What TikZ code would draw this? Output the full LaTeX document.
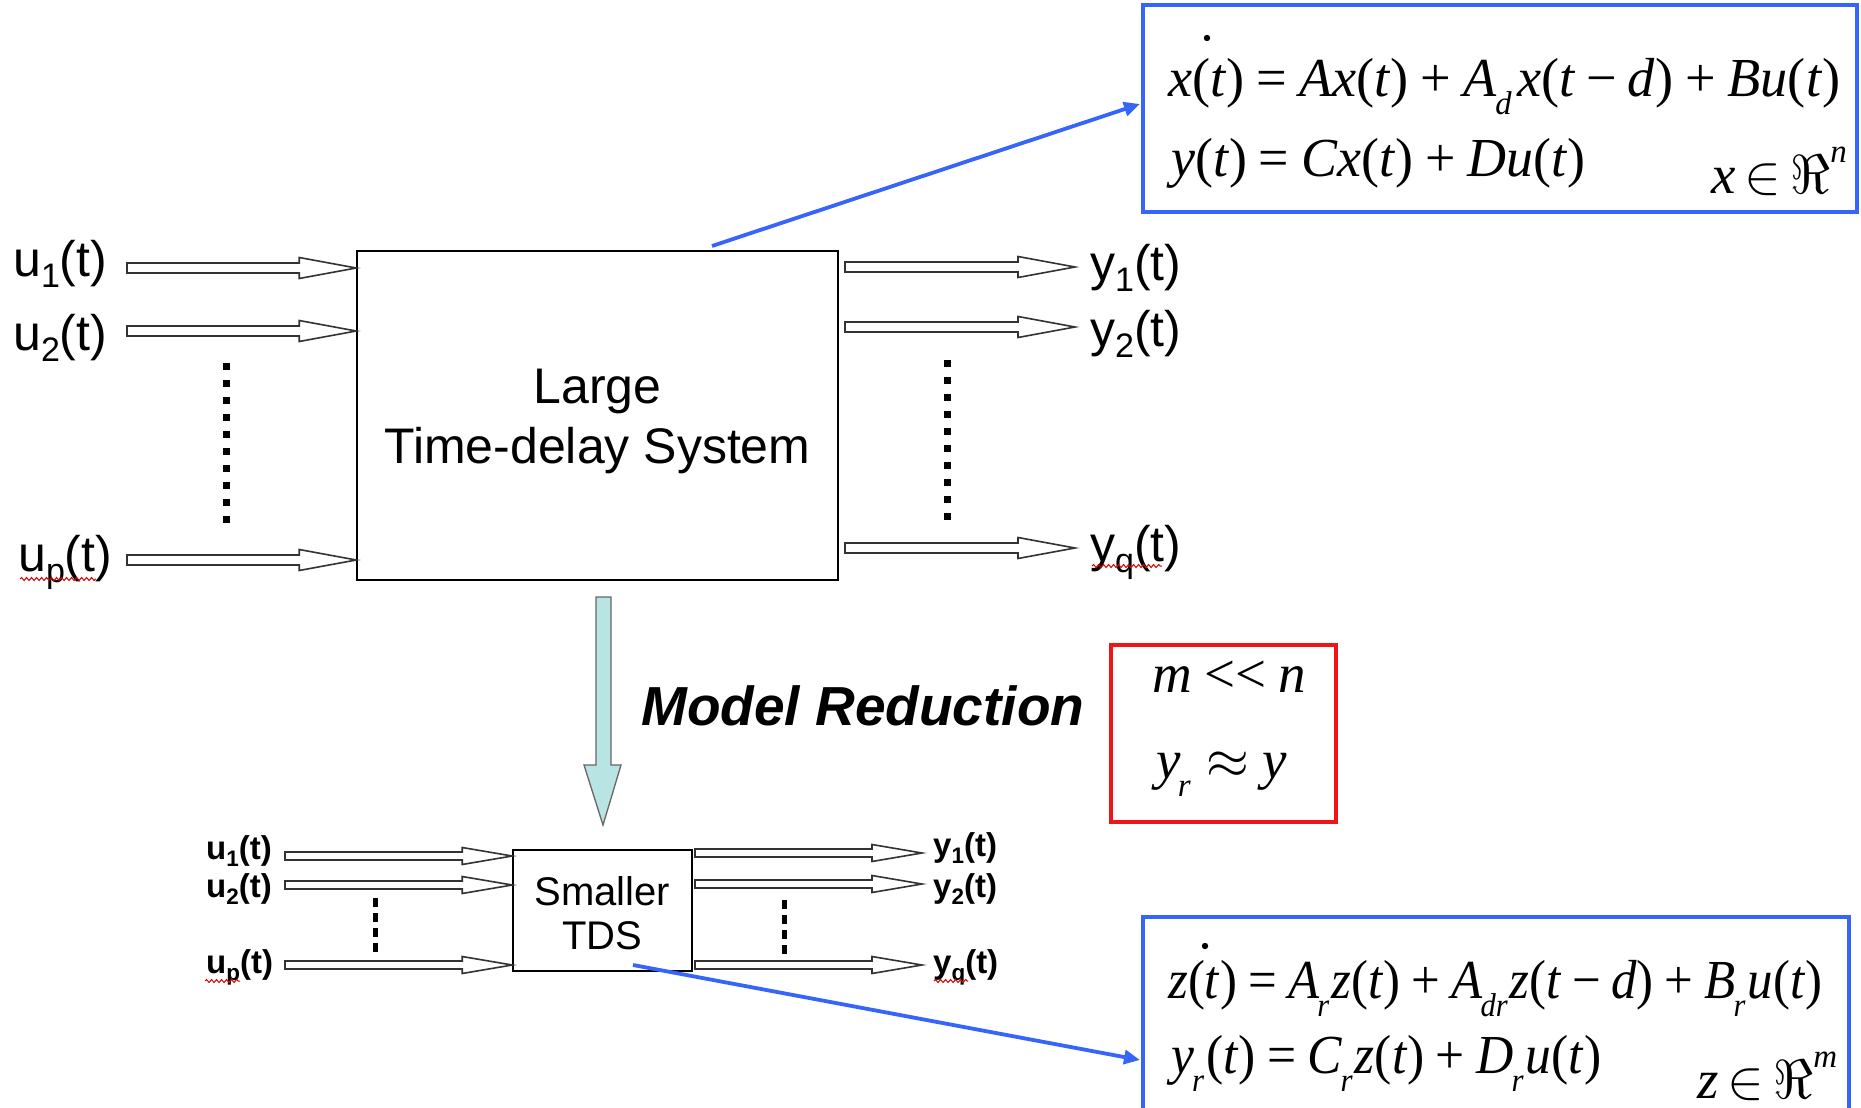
\RequirePackage{fix-cm}
\documentclass[tikz,border=0pt]{standalone}
\usepackage{fontspec}
\usepackage{graphicx}
\setmainfont{Liberation Sans}
\newfontfamily\tms{Liberation Serif}
\usetikzlibrary{arrows.meta,calc,decorations.pathmorphing}
\definecolor{eqblue}{RGB}{55,100,250}
\definecolor{boxred}{RGB}{238,20,24}
\definecolor{downfill}{RGB}{184,228,228}
\newcommand\lo[1]{\raisebox{-0.22em}{\scalebox{0.68}{#1}}}
\newcommand\mi[1]{\textit{#1}}
\newcommand\opr[1]{\hspace{0.22em}#1\hspace{0.22em}}
\newcommand\mns{\hspace{0.2em}−\hspace{0.2em}}
\newcommand\sbs[2][0em]{\hspace{#1}\raisebox{-0.33em}{\scalebox{0.6}{\textit{#2}}}\hspace{0.04em}}
\newcommand\sps[1]{\raisebox{0.55em}{\scalebox{0.6}{\textit{#1}}}}
\newcommand\fitw[2]{\resizebox{#1}{\height}{#2}}
\begin{document}
\begin{tikzpicture}[x=1pt,y=-1pt,
 harrow/.style n args={3}{draw=black!80, fill=white, line width=1.6pt, line join=miter,
   to path={let \p1=(\tikztostart), \p2=(\tikztotarget) in
     (\x1,\y1+#1) -- (\x2-#3,\y1+#1) -- (\x2-#3,\y1+#2) -- (\x2,\y1) --
     (\x2-#3,\y1-#2) -- (\x2-#3,\y1-#1) -- (\x1,\y1-#1) -- cycle}},
 bigarr/.style={harrow={5pt}{10.5pt}{57pt}},
 smallarr/.style={harrow={4pt}{8.5pt}{50pt}},
 biglab/.style={font=\fontsize{50}{60}\selectfont, inner sep=0pt, anchor=base west},
 smalllab/.style={font=\fontsize{33}{40}\selectfont\bfseries, inner sep=0pt, anchor=base west},
 eqtext/.style={font=\tms\fontsize{55}{60}\selectfont, inner sep=0pt, anchor=base west},
 eqframe/.style={draw=eqblue, line width=4.5pt},
 bluelink/.style={draw=eqblue, line width=3.8pt, -{Triangle[length=16pt,width=14pt]}},
 bigdots/.style={line width=7pt, dash pattern=on 7pt off 10pt},
 smalldots/.style={line width=5pt, dash pattern=on 9pt off 6pt},
 wavy/.style={draw=red!85!black, line width=1pt, decorate, decoration={snake, amplitude=1.5pt, segment length=5pt}}
]
\useasboundingbox (0,0) rectangle (1861,1108);

% ---------- large system ----------
\node[draw, line width=1.6pt, minimum width=481pt, minimum height=329pt] (lbox) at (597.5,415.5) {};
\node[align=center, font=\fontsize{50}{60}\selectfont, inner sep=0pt] (ltxt) at (597.5,421.5)
      {Large\\Time-delay System};

\node[biglab] (u1) at (13,276) {u\lo{1}(t)};
\node[biglab] (u2) at (13,350) {u\lo{2}(t)};
\node[biglab] (up) at (18,571) {u\lo{p}(t)};
\coordinate (i1) at (127,268);
\coordinate (i2) at (127,331);
\coordinate (ip) at (127,560);
\draw[bigarr] (i1) to (lbox.west |- i1);
\draw[bigarr] (i2) to (lbox.west |- i2);
\draw[bigarr] (ip) to (lbox.west |- ip);
\draw[bigdots] (226,363) -- (226,525);

\node[biglab] (y1) at (1090,280) {y\lo{1}(t)};
\node[biglab] (y2) at (1090,346) {y\lo{2}(t)};
\node[biglab] (yq) at (1090,561) {y\lo{q}(t)};
\coordinate (o1s) at (845,267);
\coordinate (o2s) at (845,327);
\coordinate (oqs) at (845,548);
\coordinate (o1e) at (1075,267);
\coordinate (o2e) at (1075,327);
\coordinate (oqe) at (1075,548);
\draw[bigarr] (o1s) to (o1e);
\draw[bigarr] (o2s) to (o2e);
\draw[bigarr] (oqs) to (oqe);
\draw[bigdots] (947,360) -- (947,522);

\draw[wavy] (20,579) -- (96,579);
\draw[wavy] (1092,566) -- (1162,566);

% ---------- top equations ----------
\node[eqframe, minimum width=714pt, minimum height=207pt, inner sep=0pt] (eqtop) at (1500,108.5) {};
\node[eqtext] (eq1) at (1168,96)
 {\fitw{672pt}{\mi{x}(\mi{t})\opr{=}\mi{Ax}(\mi{t})\opr{+}\mi{A}\sbs[-0.02em]{d}\hspace{0.06em}\mi{x}(\mi{t}\mns\mi{d})\opr{+}\mi{Bu}(\mi{t})}};
\fill (1207,38) circle (3.2pt);
\node[eqtext] (eq2) at (1171,176)
 {\fitw{414pt}{\mi{y}(\mi{t})\opr{=}\mi{Cx}(\mi{t})\opr{+}\mi{Du}(\mi{t})}};
\node[eqtext] (xin) at (1711,193) {\mi{x}\,$\in$\,$\Re$\sps{n}};
\coordinate (ls) at (712,246);
\coordinate (lt) at (1140,104);
\draw[bluelink] (ls) -- (lt);

% ---------- model reduction ----------
\draw[fill=downfill, draw=black!60, line width=1.3pt]
  (596,597) -- (611,597) -- (611,765) -- (621,765) -- (603,825) -- (584,765) -- (596,765) -- cycle;
\node[font=\fontsize{55}{60}\selectfont\bfseries\itshape, inner sep=0pt, anchor=base west] (mr) at (641,725) {Model Reduction};

\node[draw=boxred, line width=4pt, minimum width=225pt, minimum height=177pt, inner sep=0pt] (rbox) at (1223.5,733.5) {};
\node[eqtext] (mn) at (1152,692) {\mi{m}\hspace{0.22em}<<\hspace{0.22em}\mi{n}};
\node[eqtext] (yry) at (1156,778) {\mi{y}\sbs[-0.05em]{r}\hspace{0.24em}$\approx$\hspace{0.24em}\mi{y}};

% ---------- smaller system ----------
\node[draw, line width=1.6pt, minimum width=179pt, minimum height=121pt] (sbox) at (602.5,910.5) {};
\node[align=center, font=\fontsize{40}{44}\selectfont, inner sep=0pt] (stxt) at (602.5,913) {Smaller\\TDS};

\node[smalllab] (su1) at (206,859) {u\lo{1}(t)};
\node[smalllab] (su2) at (206,897) {u\lo{2}(t)};
\node[smalllab] (sup) at (206,973) {u\lo{p}(t)};
\coordinate (si1) at (285,856);
\coordinate (si2) at (285,885);
\coordinate (sip) at (285,965);
\draw[smallarr] (si1) to (sbox.west |- si1);
\draw[smallarr] (si2) to (sbox.west |- si2);
\draw[smallarr] (sip) to (sbox.west |- sip);
\draw[smalldots] (375,898) -- (375,953);

\node[smalllab] (sy1) at (933,856) {y\lo{1}(t)};
\node[smalllab] (sy2) at (933,897) {y\lo{2}(t)};
\node[smalllab] (syq) at (933,973) {y\lo{q}(t)};
\coordinate (so1s) at (695,853);
\coordinate (so2s) at (695,884);
\coordinate (soqs) at (695,965);
\coordinate (so1e) at (922,853);
\coordinate (so2e) at (922,884);
\coordinate (soqe) at (922,965);
\draw[smallarr] (so1s) to (so1e);
\draw[smallarr] (so2s) to (so2e);
\draw[smallarr] (soqs) to (soqe);
\draw[smalldots] (784,900) -- (784,955);

\draw[wavy] (205,981) -- (240,981);
\draw[wavy] (934,981) -- (968,981);

% ---------- bottom equations ----------
\draw[eqframe] (1143,1112) -- (1143,917) -- (1849,917) -- (1849,1112);
\node[eqtext] (eq3) at (1168,998)
 {\fitw{654pt}{\mi{z}(\mi{t})\opr{=}\mi{A}\sbs[-0.04em]{r}\mi{z}(\mi{t})\opr{+}\mi{A}\sbs[-0.04em]{dr}\mi{z}(\mi{t}\mns\mi{d})\opr{+}\mi{B}\sbs[-0.04em]{r}\mi{u}(\mi{t})}};
\fill (1205,946) circle (3.2pt);
\node[eqtext] (eq4) at (1171,1073)
 {\fitw{430pt}{\mi{y}\sbs[-0.04em]{r}(\mi{t})\opr{=}\mi{C}\sbs[-0.04em]{r}\mi{z}(\mi{t})\opr{+}\mi{D}\sbs[-0.04em]{r}\mi{u}(\mi{t})}};
\node[eqtext] (zin) at (1697,1098) {\mi{z}\,$\in$\,$\Re$\sps{m}};
\coordinate (ls2) at (633,965);
\coordinate (lt2) at (1140,1060);
\draw[bluelink] (ls2) -- (lt2);
\end{tikzpicture}
\end{document}
